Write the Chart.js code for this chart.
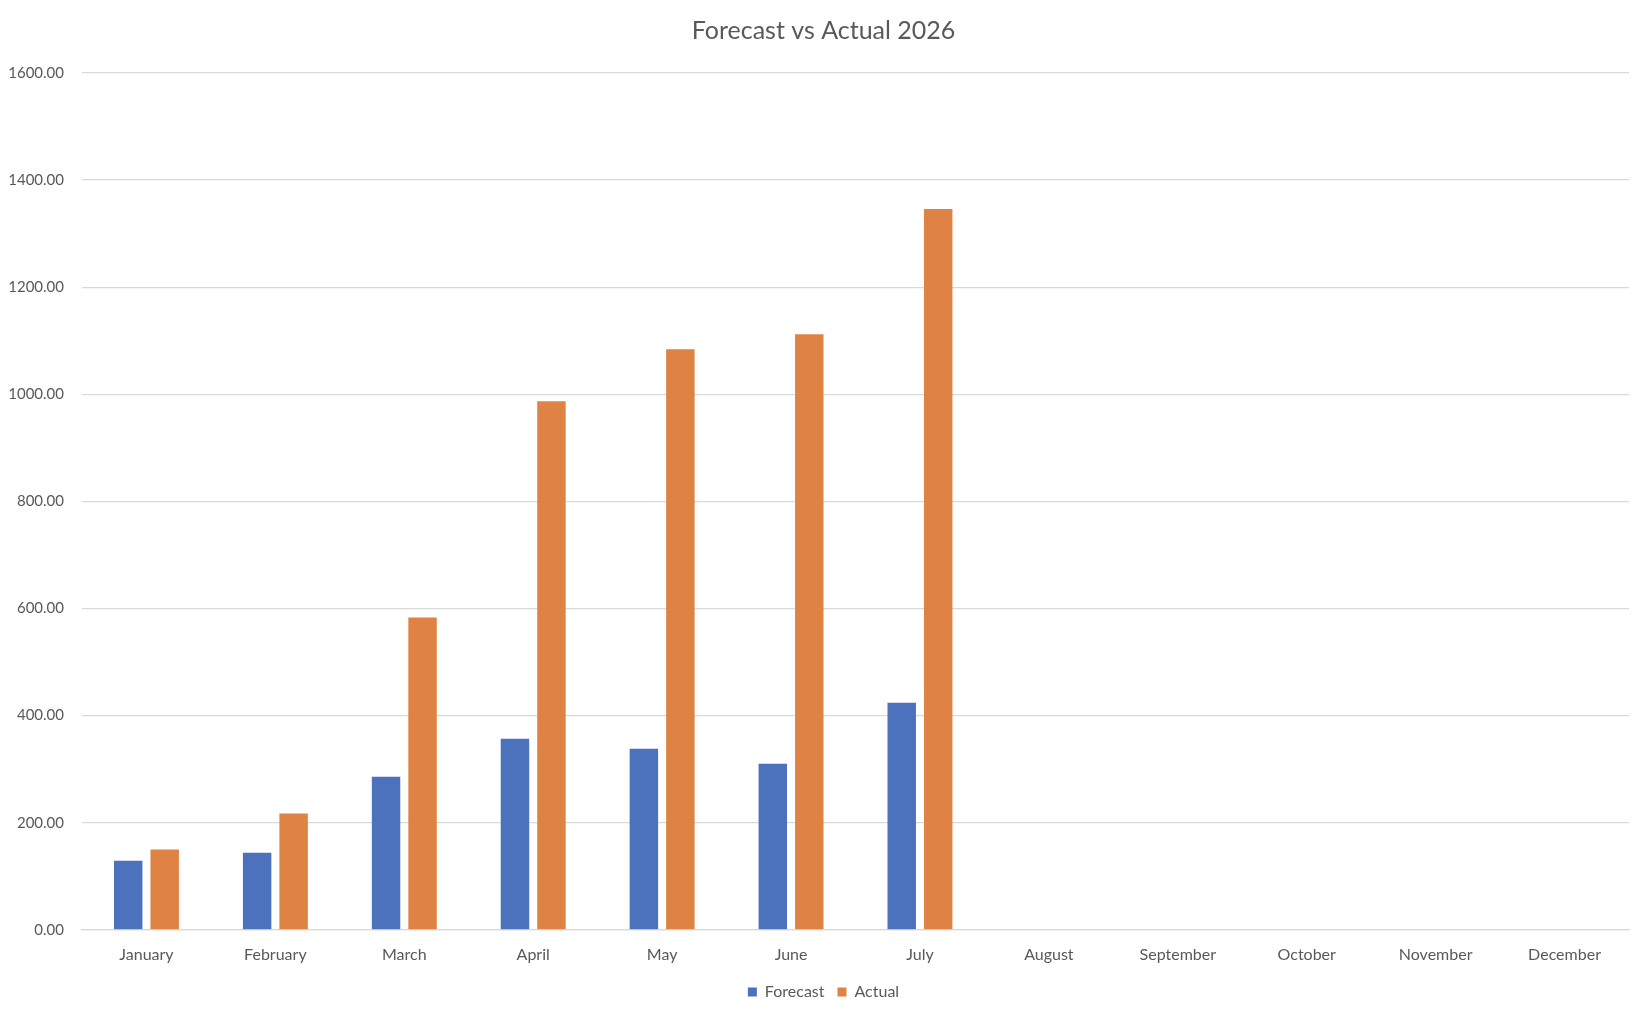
<!DOCTYPE html>
<html>
<head>
<meta charset="utf-8">
<title>Forecast vs Actual 2026</title>
<script src="https://cdn.jsdelivr.net/npm/chart.js@4"></script>
<style>
  html, body { margin: 0; padding: 0; background: #fff; }
  #wrap { width: 1644px; height: 1018px; position: relative; }
</style>
</head>
<body>
<div id="wrap"><canvas id="chart"></canvas></div>
<script>
// data
const months = ['January', 'February', 'March', 'April', 'May', 'June',
  'July', 'August', 'September', 'October', 'November', 'December'];
const forecast = [129, 144, 286, 357, 338, 310, 424, null, null, null, null, null];
const actual = [150, 217, 583, 987, 1084, 1112, 1346, null, null, null, null, null];
const yTicks = [0, 200, 400, 600, 800, 1000, 1200, 1400, 1600];

const FONT = "Lato, 'Open Sans', sans-serif";
const GREY = '#595959';

// title and legend sit centred on the whole canvas, not on the padded box
const centreBlocks = {
  id: 'centreBlocks',
  afterLayout(chart) {
    const shift = 9;
    [chart.titleBlock, chart.legend].forEach(b => {
      if (!b) return;
      b.left += shift;
      b.right += shift;
    });
  }
};

new Chart(document.getElementById('chart').getContext('2d'), {
  type: 'bar',
  data: {
    labels: months,
    datasets: [
      {
        label: 'Forecast',
        data: forecast,
        backgroundColor: '#4c72be',
        categoryPercentage: 0.566,
        barPercentage: 0.78
      },
      {
        label: 'Actual',
        data: actual,
        backgroundColor: '#df8344',
        categoryPercentage: 0.566,
        barPercentage: 0.78
      }
    ]
  },
  options: {
    responsive: true,
    maintainAspectRatio: false,
    animation: false,
    layout: { padding: { left: 0, right: 15, top: 16, bottom: 8 } },
    plugins: {
      title: {
        display: true,
        text: 'Forecast vs Actual 2026',
        color: GREY,
        font: { family: FONT, size: 25, weight: 'normal' },
        padding: { top: 0, bottom: 27 }
      },
      legend: {
        position: 'bottom',
        labels: {
          color: GREY,
          font: { family: FONT, size: 16 },
          boxWidth: 9,
          boxHeight: 9,
          padding: 13
        }
      },
      tooltip: { enabled: false }
    },
    scales: {
      x: {
        grid: { display: false },
        border: { display: true, color: '#d9d9d9', width: 1.3 },
        ticks: {
          color: GREY,
          font: { family: FONT, size: 16 },
          maxRotation: 0,
          autoSkip: false,
          padding: 7
        }
      },
      y: {
        min: 0,
        max: 1600,
        border: { display: false },
        grid: { color: '#d9d9d9', lineWidth: 1.3, drawTicks: false },
        afterFit: s => { s.width = 82; },
        afterBuildTicks: s => { s.ticks = yTicks.map(v => ({ value: v })); },
        ticks: {
          color: GREY,
          font: { family: FONT, size: 15 },
          padding: 18,
          callback: v => Number(v).toFixed(2)
        }
      }
    }
  },
  plugins: [centreBlocks]
});
</script>
</body>
</html>
